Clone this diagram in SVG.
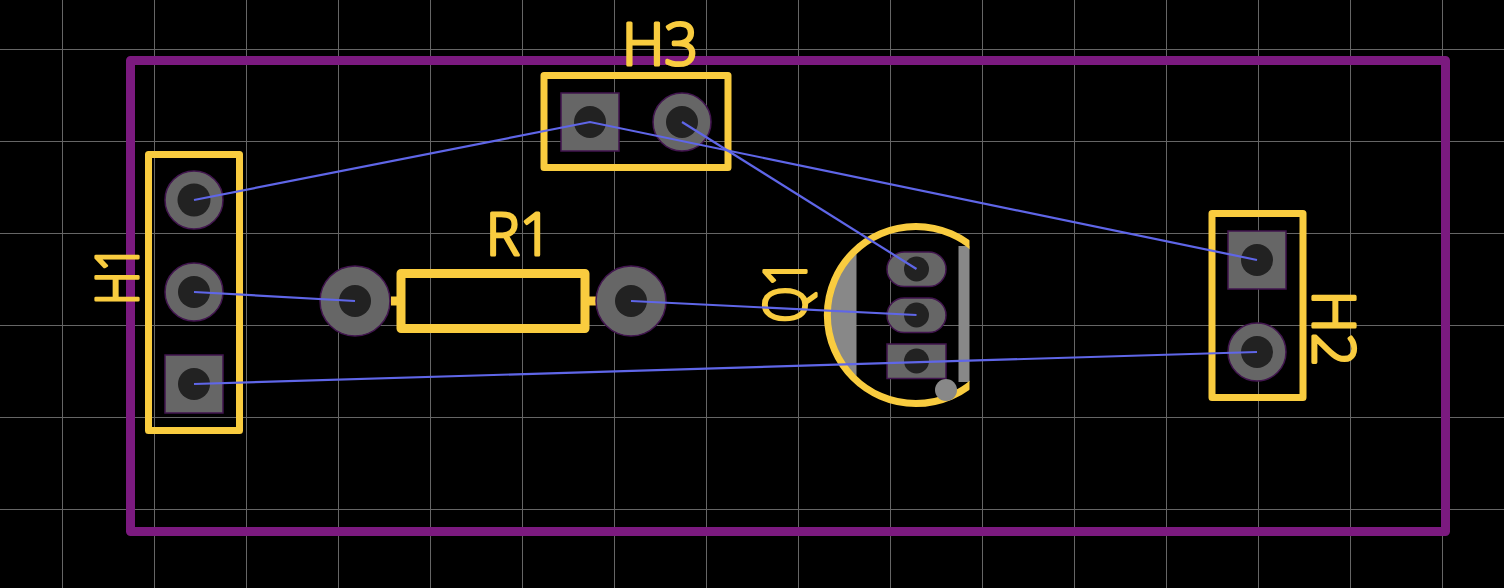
<svg xmlns="http://www.w3.org/2000/svg" width="1504" height="588" viewBox="0 0 1504 588">
<style>
.grid{stroke:#666;stroke-width:1;fill:none}
.board{fill:none;stroke:#7b1a7f;stroke-width:9;stroke-linejoin:round}
.silk{fill:none;stroke:#f9cc3f;stroke-linejoin:round}
.w7{stroke-width:7}.w9{stroke-width:9}
.pad{fill:#666;stroke:#42154f;stroke-width:1.5}
.hole{fill:#222}
.rat{fill:none;stroke:#5f66e8;stroke-width:2.200}
.gray{fill:#888}
.lbl{font-family:"Open Sans","Liberation Sans",sans-serif;font-weight:300;font-size:58px;fill:#f9cc3f;stroke:#f9cc3f;stroke-width:3.200;stroke-linejoin:round;text-anchor:middle}
</style>
<defs><clipPath id="qc"><rect x="800" y="200" width="169.5" height="230"/></clipPath></defs>
<rect width="1504" height="588" fill="#000"/>
<g id="grid" class="grid">
<path d="M62.500 0V588M154.500 0V588M246.500 0V588M338.500 0V588M430.500 0V588M522.500 0V588M614.500 0V588M706.500 0V588M798.500 0V588M890.500 0V588M982.500 0V588M1074.500 0V588M1166.500 0V588M1258.500 0V588M1350.500 0V588M1442.500 0V588"/>
<path d="M0 49.500H1504M0 141.500H1504M0 233.500H1504M0 325.500H1504M0 417.500H1504M0 509.500H1504"/>
</g>
<rect id="board" class="board" x="130.500" y="60.500" width="1315" height="471"/>
<g id="H1">
<rect class="silk w7" x="148.500" y="154.500" width="91" height="276"/>
<circle class="pad" cx="194" cy="200" r="29"/><circle class="hole" cx="194" cy="200" r="16.500"/>
<circle class="pad" cx="194" cy="292" r="29"/><circle class="hole" cx="194" cy="292" r="16"/>
<rect class="pad" x="165" y="355" width="58" height="58"/><circle class="hole" cx="194" cy="384" r="16"/>
<text class="lbl" transform="translate(138 275) rotate(-90)" textLength="60" lengthAdjust="spacingAndGlyphs">H1</text>
</g>
<g id="H3">
<rect class="silk w7" x="544" y="75.500" width="184" height="92"/>
<rect class="pad" x="561" y="93" width="58" height="58"/><circle class="hole" cx="590" cy="122" r="16"/>
<circle class="pad" cx="682" cy="122" r="29"/><circle class="hole" cx="682" cy="122" r="16"/>
<text class="lbl" x="660" y="65" textLength="76" lengthAdjust="spacingAndGlyphs">H3</text>
</g>
<g id="H2">
<rect class="silk w7" x="1212" y="213.500" width="91" height="184"/>
<rect class="pad" x="1228" y="231" width="58" height="58"/><circle class="hole" cx="1257" cy="260" r="16"/>
<circle class="pad" cx="1257" cy="352" r="29"/><circle class="hole" cx="1257" cy="352" r="16"/>
<text class="lbl" transform="translate(1313 328.500) rotate(90)" textLength="76" lengthAdjust="spacingAndGlyphs">H2</text>
</g>
<g id="R1">
<path class="silk w9" d="M391 301H401M585 301H596"/>
<rect class="silk w9" x="401" y="273.500" width="184" height="55"/>
<circle class="pad" cx="355" cy="301" r="35"/><circle class="hole" cx="355" cy="301" r="16"/>
<circle class="pad" cx="631" cy="301" r="35"/><circle class="hole" cx="631" cy="301" r="16"/>
<text class="lbl" x="519" y="255" textLength="66" lengthAdjust="spacingAndGlyphs">R1</text>
</g>
<g id="Q1">
<path class="gray" d="M856.500 250A89 89 0 0 0 856.500 380Z"/>
<rect class="gray" x="958.500" y="246" width="11" height="136"/>
<g clip-path="url(#qc)"><path class="silk w7" d="M978.500 252.500A88.500 88.500 0 1 0 978.500 377.500"/></g>
<rect class="pad" x="887" y="252" width="59" height="34.500" rx="17.250"/><circle class="hole" cx="916.500" cy="269" r="12.500"/>
<rect class="pad" x="887" y="298" width="59" height="34.500" rx="17.250"/><circle class="hole" cx="916.500" cy="315" r="12.500"/>
<rect class="pad" x="887" y="344" width="59" height="34.500"/><circle class="hole" cx="916.500" cy="361" r="12.500"/>
<circle class="gray" cx="946" cy="390" r="11"/>
<text class="lbl" transform="translate(806 291) rotate(-90)" textLength="64" lengthAdjust="spacingAndGlyphs">Q1</text>
</g>
<g id="connectors" class="rat">
<path d="M194 200L590 122L1257 260"/>
<path d="M682 122L916.500 269"/>
<path d="M194 292L355 301"/>
<path d="M631 301L916.500 315"/>
<path d="M194 384L1257 352"/>
</g>
</svg>
